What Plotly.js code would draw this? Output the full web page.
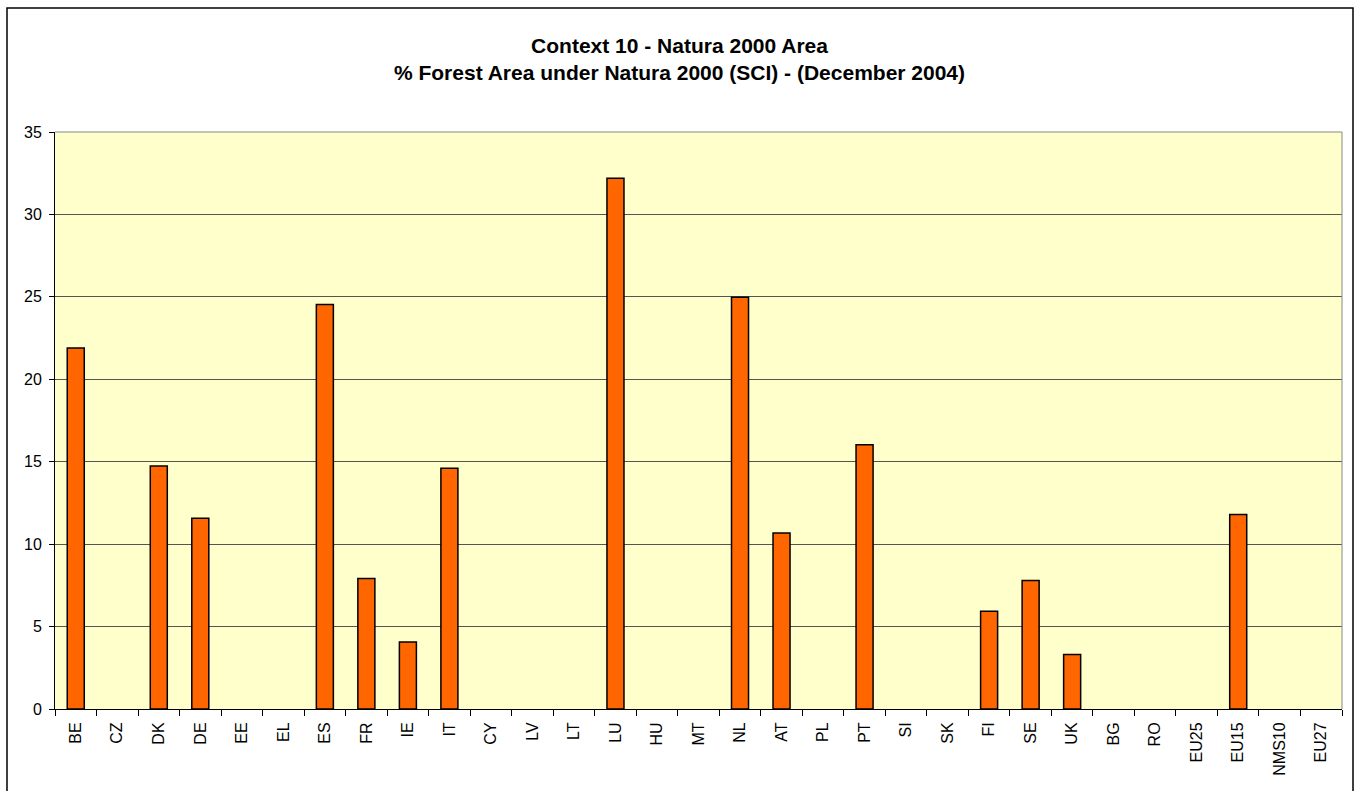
<!DOCTYPE html>
<html>
<head>
<meta charset="utf-8">
<script src="https://cdn.plot.ly/plotly-3.0.1.min.js"></script>
<style>html,body{margin:0;padding:0;background:#fff;}#chart{width:1359px;height:791px;}</style>
</head>
<body>
<div id="chart"></div>
<script>
const categories = ["BE","CZ","DK","DE","EE","EL","ES","FR","IE","IT","CY","LV","LT","LU","HU","MT","NL","AT","PL","PT","SI","SK","FI","SE","UK","BG","RO","EU25","EU15","NMS10","EU27"];
const values = [21.9,null,14.74,11.57,null,null,24.54,7.92,4.06,14.6,null,null,null,32.2,null,null,24.97,10.67,null,16.03,null,null,5.93,7.8,3.3,null,null,null,11.8,null,null];
const yTicks = [0,5,10,15,20,25,30,35];
const titleLine1 = "Context 10 - Natura 2000 Area";
const titleLine2 = "% Forest Area under Natura 2000 (SCI) - (December 2004)";

const trace = {
  type: 'bar',
  x: categories,
  y: values,
  marker: {color: '#FF6600', line: {color: '#000000', width: 1.5}},
  hoverinfo: 'x+y'
};

const layout = {
  width: 1359, height: 791,
  paper_bgcolor: '#ffffff',
  plot_bgcolor: '#FFFFCC',
  margin: {l: 55, r: 17, t: 132, b: 82, pad: 0},
  bargap: 0.59,
  showlegend: false,
  font: {family: 'Arial, "Liberation Sans", sans-serif', color: '#000'},
  title: {
    text: '<b>' + titleLine1 + '</b><br><b>' + titleLine2 + '</b>',
    font: {size: 21, color: '#000'},
    x: 0.5, xanchor: 'center',
    yref: 'container', y: 1 - 53/791, yanchor: 'middle'
  },
  xaxis: {
    type: 'category',
    tickangle: -90,
    tickfont: {size: 16},
    ticks: 'outside', ticklen: 6, tickcolor: '#000', tickwidth: 1,
    tickson: 'boundaries',
    ticklabelstandoff: 6,
    showline: true, linecolor: '#000', linewidth: 1,
    showgrid: false, zeroline: false, fixedrange: true
  },
  yaxis: {
    range: [0, 35],
    tickvals: yTicks,
    tickfont: {size: 16},
    ticks: 'outside', ticklen: 5, tickcolor: '#000',
    ticklabelstandoff: 4,
    showline: true, linecolor: '#000', linewidth: 1,
    showgrid: true, gridcolor: '#555555', gridwidth: 1,
    zeroline: false, fixedrange: true
  },
  shapes: [
    {type: 'line', xref: 'paper', yref: 'paper', x0: 1, x1: 1, y0: 0, y1: 1, line: {color: '#888', width: 1}},
    {type: 'line', xref: 'paper', yref: 'paper', x0: 0, x1: 1, y0: 1, y1: 1, line: {color: '#888', width: 1}},
    {type: 'rect', xref: 'paper', yref: 'paper',
     x0: -48/1287, x1: 1 + 11/1287, y0: -(82+2)/577, y1: 1 + 124/577,
     line: {color: '#000', width: 1.5}, fillcolor: 'rgba(0,0,0,0)'}
  ]
};

Plotly.newPlot('chart', [trace], layout, {displayModeBar: false, staticPlot: true});
</script>
</body>
</html>
